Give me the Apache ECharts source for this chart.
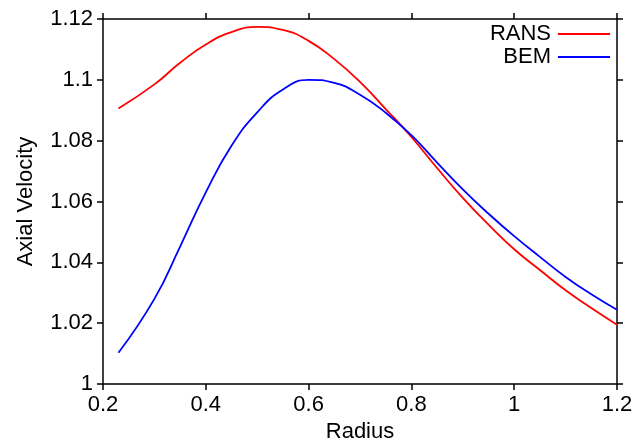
<!DOCTYPE html>
<html>
<head>
<meta charset="utf-8">
<script src="https://cdn.jsdelivr.net/npm/echarts@6/dist/echarts.min.js"></script>
<style>
  html, body { margin: 0; padding: 0; background: #fff; }
  #main { width: 640px; height: 438px; }
</style>
</head>
<body>
<div id="main"></div>
<script>
// data
const ransRadius = [0.23, 0.30, 0.35, 0.40, 0.45, 0.50, 0.55, 0.60, 0.65, 0.70, 0.75, 0.80, 0.85, 0.90, 0.95, 1.00, 1.05, 1.10, 1.15, 1.20];
const ransVel = [1.0906, 1.0985, 1.1056, 1.1116, 1.1157, 1.1174, 1.1164, 1.1128, 1.1068, 1.0993, 1.0904, 1.0812, 1.0710, 1.0612, 1.0524, 1.0443, 1.0375, 1.0308, 1.0250, 1.0195];

const bemRadius = [0.23, 0.30, 0.35, 0.40, 0.45, 0.50, 0.55, 0.60, 0.65, 0.70, 0.75, 0.80, 0.85, 0.90, 0.95, 1.00, 1.05, 1.10, 1.15, 1.20];
const bemVel = [1.0103, 1.0280, 1.0452, 1.0630, 1.0783, 1.0893, 1.0968, 1.1000, 1.0990, 1.0951, 1.0892, 1.0818, 1.0728, 1.0640, 1.0560, 1.0486, 1.0418, 1.0352, 1.0295, 1.0244];

const font = 'Liberation Sans, Arial, Helvetica, sans-serif';

function pairs(xs, ys) {
    return xs.map((x, i) => [x, ys[i]]);
}

let chartDom = document.getElementById('main');
let myChart = echarts.init(chartDom);

let axisLine = { show: true, lineStyle: { color: '#000', width: 1.5 } };
let axisTick = { show: true, inside: false, length: 6, lineStyle: { color: '#000', width: 1.5 } };
let labelStyle = { fontFamily: font, fontSize: 22, color: '#000' };

let option = {
    animation: false,
    grid: { left: 103, right: 23, top: 19, bottom: 54, outerBoundsMode: 'none', containLabel: false },
    legend: {
        orient: 'vertical',
        right: 25,
        top: 18,
        align: 'right',
        icon: 'rect',
        itemWidth: 52,
        itemHeight: 2,
        itemGap: 1,
        textStyle: { fontFamily: font, fontSize: 22, color: '#000', padding: [0, 2, 0, 0] },
        data: ['RANS', 'BEM']
    },
    xAxis: [{
        type: 'value',
        min: 0.2, max: 1.2, interval: 0.2,
        name: 'Radius',
        nameLocation: 'middle',
        nameGap: 35,
        nameTextStyle: labelStyle,
        axisLine: axisLine,
        axisTick: axisTick,
        axisLabel: Object.assign({ margin: 10 }, labelStyle),
        splitLine: { show: false }
    }, {
        type: 'value',
        position: 'top',
        min: 0.2, max: 1.2, interval: 0.2,
        axisLine: axisLine,
        axisTick: axisTick,
        axisLabel: { show: false },
        splitLine: { show: false }
    }],
    yAxis: [{
        type: 'value',
        min: 1, max: 1.12, interval: 0.02,
        name: 'Axial Velocity',
        nameLocation: 'middle',
        nameGap: 66,
        nameTextStyle: labelStyle,
        axisLine: axisLine,
        axisTick: axisTick,
        axisLabel: Object.assign({ margin: 10 }, labelStyle),
        splitLine: { show: false }
    }, {
        type: 'value',
        position: 'right',
        min: 1, max: 1.12, interval: 0.02,
        axisLine: axisLine,
        axisTick: axisTick,
        axisLabel: { show: false },
        splitLine: { show: false }
    }],
    series: [{
        name: 'RANS',
        type: 'line',
        data: pairs(ransRadius, ransVel),
        smooth: 0.5,
        showSymbol: false,
        color: '#ff0000',
        lineStyle: { width: 1.8, color: '#ff0000' }
    }, {
        name: 'BEM',
        type: 'line',
        data: pairs(bemRadius, bemVel),
        smooth: 0.5,
        showSymbol: false,
        color: '#0000ff',
        lineStyle: { width: 1.8, color: '#0000ff' }
    }]
};

myChart.setOption(option);
</script>
</body>
</html>
